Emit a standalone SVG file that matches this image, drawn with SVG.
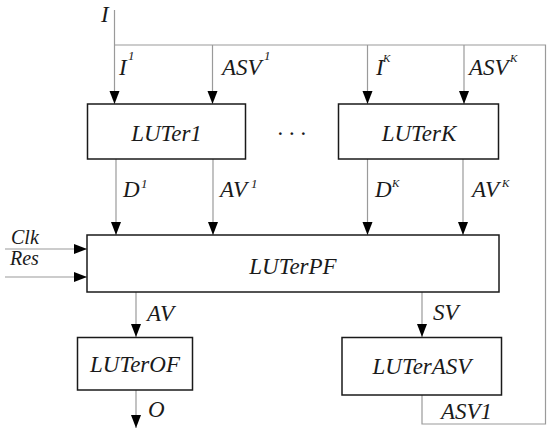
<svg xmlns="http://www.w3.org/2000/svg" width="550" height="432" viewBox="0 0 550 432">
<defs>
<style>
.box{fill:#fff;stroke:#1a1a1a;stroke-width:1.5}
.c{fill:none;stroke:#9a9a9a;stroke-width:1.2}
.ca{fill:none;stroke:#9a9a9a;stroke-width:1.2;marker-end:url(#ah)}
text{font-family:"Liberation Serif","Times New Roman",serif;font-style:italic;fill:#1a1a1a}
.t{font-size:23px}
.sm{font-size:20px}
.m{text-anchor:middle}
.s{font-size:13px}
.k{font-size:11px}
</style>
<marker id="ah" markerUnits="userSpaceOnUse" markerWidth="14" markerHeight="11" refX="13" refY="5" orient="auto">
<path d="M0,0 L13,5 L0,10 z" fill="#000"/>
</marker>
</defs>
<rect width="550" height="432" fill="#fff"/>
<g id="connectors">
<path class="ca" d="M114.5,10 V104"/>
<path class="c" d="M422,395 V424 H545.5 V45 H114.5"/>
<path class="ca" d="M212.5,45 V104"/>
<path class="ca" d="M367.5,45 V104"/>
<path class="ca" d="M464,45 V104"/>
<path class="ca" d="M116,159 V235"/>
<path class="ca" d="M213,159 V235"/>
<path class="ca" d="M367.5,159 V235"/>
<path class="ca" d="M463,159 V235"/>
<path class="ca" d="M5,249 H87"/>
<path class="ca" d="M5,277 H87"/>
<path class="ca" d="M136,292 V337"/>
<path class="ca" d="M136,390 V428"/>
<path class="ca" d="M422,292 V337"/>
</g>
<g id="labels">
<text class="t" x="101" y="22">I</text>
<text class="t" x="119" y="75">I</text><text class="s" x="128" y="60">1</text>
<text class="t" x="222" y="75">ASV</text><text class="s" x="264" y="60">1</text>
<text class="t" x="376" y="75">I</text><text class="k" x="383" y="62">K</text>
<text class="t" x="469" y="75">ASV</text><text class="k" x="510" y="62">K</text>
<text class="t" x="123" y="197">D</text><text class="s" x="141" y="188">1</text>
<text class="t" x="220" y="197">AV</text><text class="s" x="251" y="188">1</text>
<text class="t" x="375" y="197">D</text><text class="k" x="392" y="187">K</text>
<text class="t" x="472" y="197">AV</text><text class="k" x="502" y="187">K</text>
<text class="sm" x="11" y="244">Clk</text>
<text class="sm" x="10" y="265">Res</text>
<text class="t" x="147" y="321">AV</text>
<text class="t" x="433" y="320">SV</text>
<text class="t" x="148" y="417">O</text>
<text class="t" x="441" y="419">ASV1</text>
<text class="t" x="278" y="135">. . .</text>
</g>
<g id="LUTer1">
<rect class="box" x="87.5" y="104" width="158" height="55"/>
<text class="t m" x="166.5" y="141">LUTer1</text>
</g>
<g id="LUTerK">
<rect class="box" x="338.5" y="104" width="160" height="55"/>
<text class="t m" x="419" y="141">LUTerK</text>
</g>
<g id="LUTerPF">
<rect class="box" x="87" y="235" width="412" height="57"/>
<text class="t m" x="293" y="274">LUTerPF</text>
</g>
<g id="LUTerOF">
<rect class="box" x="77.5" y="337.5" width="115" height="52.5"/>
<text class="t m" x="135" y="372">LUTerOF</text>
</g>
<g id="LUTerASV">
<rect class="box" x="342" y="337.5" width="159.5" height="57.5"/>
<text class="t m" x="422" y="374">LUTerASV</text>
</g>
</svg>
